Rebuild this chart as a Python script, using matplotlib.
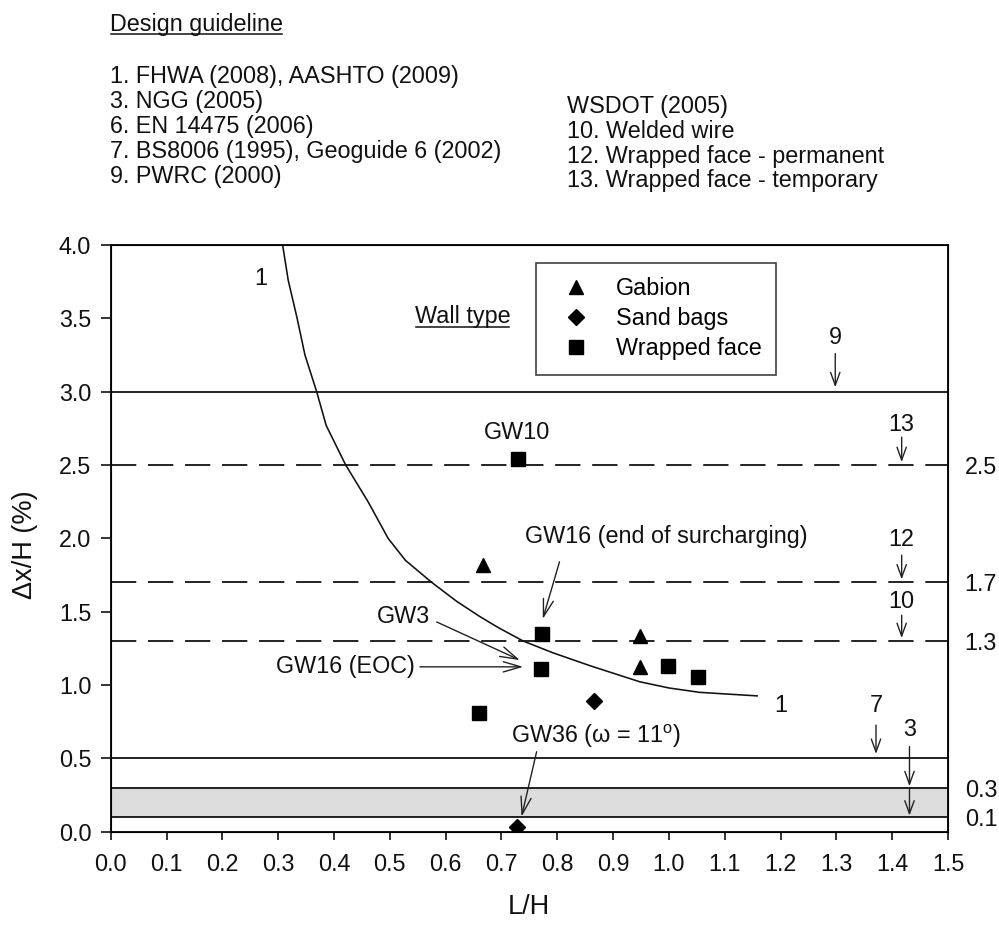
import matplotlib
matplotlib.use("Agg")
import matplotlib.pyplot as plt
from matplotlib.lines import Line2D

plt.rcParams['font.family'] = ['Liberation Sans', 'DejaVu Sans']
plt.rcParams['mathtext.fontset'] = 'custom'
plt.rcParams['mathtext.rm'] = 'Liberation Sans'

# ---------------- data ----------------
# FHWA / AASHTO curve (guideline 1)
curve_LH = [0.308, 0.318, 0.334, 0.348, 0.369, 0.386, 0.421, 0.461, 0.497, 0.528, 0.575,
            0.620, 0.660, 0.695, 0.739, 0.792, 0.860, 0.948, 1.000, 1.055, 1.158]
curve_dx = [4.0, 3.76, 3.5, 3.25, 3.0, 2.77, 2.5, 2.25, 2.0, 1.85, 1.7,
            1.57, 1.47, 1.39, 1.3, 1.22, 1.13, 1.022, 0.98, 0.95, 0.926]

gabion_LH = [0.667, 0.949, 0.949]
gabion_dx = [1.82, 1.335, 1.124]
sand_LH = [0.727, 0.866]
sand_dx = [0.034, 0.89]
wrapped_LH = [0.729, 0.773, 0.770, 0.660, 0.999, 1.052]
wrapped_dx = [2.54, 1.347, 1.106, 0.806, 1.133, 1.052]

solid_limits = [3.0, 0.5, 0.3, 0.1]
dashed_limits = [2.5, 1.7, 1.3]
band_low, band_high = 0.1, 0.3
right_ticks = [0.1, 0.3, 1.3, 1.7, 2.5]
right_labels = ['0.1', '0.3', '1.3', '1.7', '2.5']

x_ticks = [i / 10 for i in range(16)]
y_ticks = [i / 2 for i in range(9)]

left_header = ['1. FHWA (2008), AASHTO (2009)', '3. NGG (2005)', '6. EN 14475 (2006)',
               '7. BS8006 (1995), Geoguide 6 (2002)', '9. PWRC (2000)']
right_header = ['WSDOT (2005)', '10. Welded wire', '12. Wrapped face - permanent',
                '13. Wrapped face - temporary']

# guideline number markers: label, x, text y, arrow start y, arrow end y
guide_labels = ['9', '13', '12', '10', '7', '3']
guide_x = [1.298, 1.417, 1.417, 1.417, 1.371, 1.431]
guide_ty = [3.37, 2.775, 1.99, 1.567, 0.858, 0.70]
guide_y0 = [3.26, 2.69, 1.885, 1.476, 0.727, 0.58]
guide_y1 = [3.03, 2.52, 1.72, 1.32, 0.53, 0.31]

FS = 16.8
W, H = 999, 925
fig = plt.figure(figsize=(W / 100, H / 100), dpi=100)
ax = fig.add_axes([110.7 / W, 1 - 831.7 / H, (948 - 110.7) / W, (831.7 - 245) / H])

ax.set_xlim(0, 1.5)
ax.set_ylim(0, 4.0)

# band and limit lines
ax.axhspan(band_low, band_high, color='#dcdcdc', lw=0, zorder=0)
for v in solid_limits:
    ax.axhline(v, color='#111111', lw=1.3, zorder=1)
for v in dashed_limits:
    ax.axhline(v, color='#111111', lw=1.3, ls=(0, (14, 6.5)), zorder=1)

# curve
ax.plot(curve_LH, curve_dx, color='#111111', lw=1.15, zorder=2)

# data
ax.plot(gabion_LH, gabion_dx, ls='none', marker='^', ms=10, color='black', zorder=4)
ax.plot(sand_LH, sand_dx, ls='none', marker='D', ms=8.5, color='black', zorder=4)
ax.plot(wrapped_LH, wrapped_dx, ls='none', marker='s', ms=10, color='black', zorder=4)

# ticks
ax.set_xticks(x_ticks)
ax.set_xticklabels([f'{t:.1f}' for t in x_ticks])
ax.set_yticks(y_ticks)
ax.set_yticklabels([f'{t:.1f}' for t in y_ticks])
ax.tick_params(axis='x', direction='out', length=6, width=1.2, pad=9.5, labelsize=FS, colors='#111111')
ax.tick_params(axis='y', direction='out', length=7, width=1.2, pad=7, labelsize=FS, colors='#111111')
for s in ax.spines.values():
    s.set_linewidth(1.4)
    s.set_color('#111111')

ax2 = ax.twinx()
ax2.set_ylim(0, 4.0)
ax2.set_yticks(right_ticks)
ax2.set_yticklabels(right_labels)
ax2.tick_params(axis='y', length=0, pad=12, labelsize=FS, colors='#111111')

ax.set_xlabel('L/H', fontsize=19.5, color='#111111')
ax.set_ylabel('Δx/H (%)', fontsize=19.5, color='#111111')
ax.xaxis.set_label_coords(0.5, -0.107)
ax.yaxis.set_label_coords(-0.087, 0.489)

# legend
handles = [Line2D([], [], ls='none', marker='^', ms=10, color='black'),
           Line2D([], [], ls='none', marker='D', ms=8.5, color='black'),
           Line2D([], [], ls='none', marker='s', ms=10, color='black')]
leg = ax.legend(handles, ['Gabion', 'Sand bags', 'Wrapped face'], loc='upper left',
                bbox_to_anchor=(536 / W, 1 - 263 / H), bbox_transform=fig.transFigure,
                borderaxespad=0, fontsize=FS, frameon=True, fancybox=False,
                edgecolor='#111111', borderpad=0.62, handlelength=2.2, handletextpad=0.62,
                labelspacing=0.3)
leg.get_frame().set_linewidth(1.2)

tkw = dict(fontsize=FS, color='#111111', ha='center', va='center')
# curve labels
ax.text(0.268, 3.77, '1', **tkw)
ax.text(1.20, 0.858, '1', **tkw)
wall = ax.text(0.63, 3.51, 'Wall type', **tkw)
ax.text(0.728, 2.72, 'GW10', **tkw)
ax.text(0.996, 2.014, 'GW16 (end of surcharging)', **tkw)
ax.text(0.525, 1.465, 'GW3', **tkw)
ax.text(0.42, 1.124, 'GW16 (EOC)', **tkw)
ax.text(0.87, 0.652, 'GW36 (ω = 11$^{\\mathrm{o}}$)', **tkw)

big_arrow = dict(arrowstyle='->, head_length=0.75, head_width=0.22', color='#222222', lw=1.0,
                 shrinkA=0, shrinkB=0, mutation_scale=FS)
ax.annotate('', xy=(0.774, 1.45), xytext=(0.804, 1.84), arrowprops=big_arrow)
ax.annotate('', xy=(0.733, 1.17), xytext=(0.584, 1.43), arrowprops=big_arrow)
ax.annotate('', xy=(0.739, 1.124), xytext=(0.554, 1.124), arrowprops=big_arrow)
ax.annotate('', xy=(0.736, 0.102), xytext=(0.763, 0.545), arrowprops=big_arrow)

small_arrow = dict(arrowstyle='->, head_length=0.55, head_width=0.2', color='#222222', lw=1.0,
                   shrinkA=0, shrinkB=0, mutation_scale=FS)
for lab, gx, ty, y0, y1 in zip(guide_labels, guide_x, guide_ty, guide_y0, guide_y1):
    ax.text(gx, ty, lab, **tkw)
    ax.annotate('', xy=(gx, y1), xytext=(gx, y0), arrowprops=small_arrow)
ax.annotate('', xy=(guide_x[-1], 0.11), xytext=(guide_x[-1], 0.30), arrowprops=small_arrow)

# header
hkw = dict(fontsize=FS, color='#111111', ha='left', va='center')
design = fig.text(110 / W, 1 - 25 / H, 'Design guideline', **hkw)
for i, s in enumerate(left_header):
    fig.text(110 / W, 1 - (76.7 + 25 * i) / H, s, **hkw)
for i, s in enumerate(right_header):
    fig.text(566.7 / W, 1 - (106 + 25 * i) / H, s, **hkw)

# underlines
fig.canvas.draw()
r = fig.canvas.get_renderer()
for t, ypix in [(design, 34), (wall, 327)]:
    bb = t.get_window_extent(r)
    y = 1 - ypix / H
    fig.add_artist(Line2D([bb.x0 / W + 0.001, bb.x1 / W - 0.001], [y, y],
                          transform=fig.transFigure, color='#111111', lw=1.1))

fig.savefig('out.png', dpi=100)
